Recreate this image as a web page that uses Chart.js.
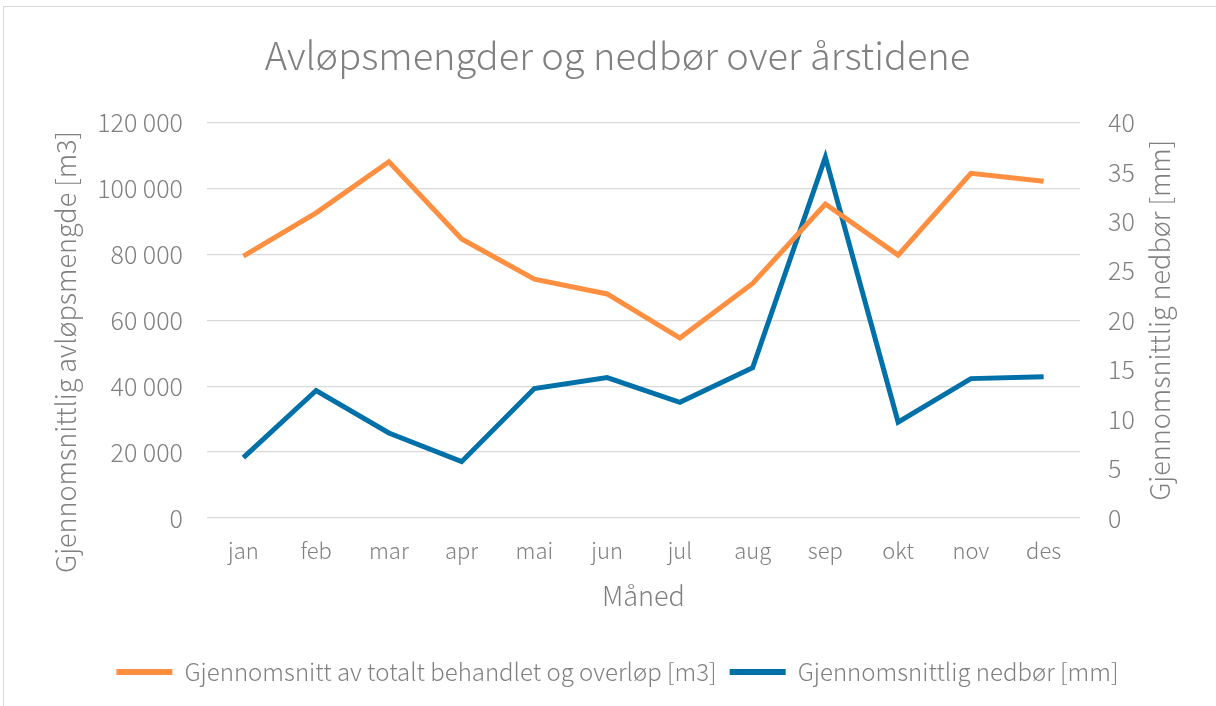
<!DOCTYPE html>
<html>
<head>
<meta charset="utf-8">
<script src="https://cdn.jsdelivr.net/npm/chart.js@4.4.1/dist/chart.umd.min.js"></script>
<style>
    html, body { margin: 0; padding: 0; background: #fff; }
    #wrap { position: relative; width: 1216px; height: 706px; overflow: hidden; }
    #frame { position: absolute; left: 3px; top: 6px; width: 1230px; height: 720px; border: 1.5px solid #d9d9d9; }
    #c { position: absolute; left: 0; top: 0; }
</style>
</head>
<body>
<div id="wrap">
    <div id="frame"></div>
    <canvas id="c" width="1216" height="706"></canvas>
</div>
<script>
// Data
const months = ['jan', 'feb', 'mar', 'apr', 'mai', 'jun', 'jul', 'aug', 'sep', 'okt', 'nov', 'des'];
const avlopsmengde = [79500, 92600, 108100, 84700, 72500, 68000, 54600, 71200, 95300, 79800, 104600, 102200];
const nedbor = [6.1, 12.9, 8.6, 5.7, 13.1, 14.2, 11.7, 15.2, 36.5, 9.7, 14.1, 14.3];
const leftTicks = [0, 20000, 40000, 60000, 80000, 100000, 120000];
const rightTicks = [0, 5, 10, 15, 20, 25, 30, 35, 40];

const FONT = '"Noto Sans CJK JP", "Noto Sans", sans-serif';
const GREY = '#808080';
const ORANGE = '#FF8F40';
const BLUE = '#0070A8';

Chart.defaults.font.family = FONT;
Chart.defaults.font.weight = 300;
Chart.defaults.color = GREY;

// Titres des axes Y dessinés à la main (les deux lisent de bas en haut)
const axisTitles = {
    id: 'axisTitles',
    afterDraw(chart) {
        const ctx = chart.ctx;
        const area = chart.chartArea;
        ctx.save();
        ctx.fillStyle = GREY;
        ctx.font = '300 27px ' + FONT;
        ctx.textAlign = 'center';
        ctx.textBaseline = 'middle';

        ctx.translate(chart.scales.y.left + 21, 352);
        ctx.rotate(-Math.PI / 2);
        ctx.fillText('Gjennomsnittlig avløpsmengde [m3]', 0, 0);
        ctx.restore();

        ctx.save();
        ctx.fillStyle = GREY;
        ctx.font = '300 27px ' + FONT;
        ctx.textAlign = 'center';
        ctx.textBaseline = 'middle';
        ctx.translate(chart.scales.y1.right - 30, (area.top + area.bottom) / 2);
        ctx.rotate(-Math.PI / 2);
        ctx.fillText('Gjennomsnittlig nedbør [mm]', 0, 0);
        ctx.restore();
    }
};

new Chart(document.getElementById('c'), {
    type: 'line',
    data: {
        labels: months,
        datasets: [{
            label: 'Gjennomsnitt av totalt behandlet og overløp [m3]',
            data: avlopsmengde,
            borderColor: ORANGE,
            backgroundColor: ORANGE,
            borderWidth: 5,
            pointRadius: 0,
            tension: 0,
            yAxisID: 'y'
        }, {
            label: 'Gjennomsnittlig nedbør [mm]',
            data: nedbor,
            borderColor: BLUE,
            backgroundColor: BLUE,
            borderWidth: 5,
            pointRadius: 0,
            tension: 0,
            yAxisID: 'y1'
        }]
    },
    options: {
        responsive: false,
        animation: false,
        layout: { padding: { left: 45, right: 26, top: 8, bottom: 12 } },
        plugins: {
            title: {
                display: true,
                text: 'Avløpsmengder og nedbør over årstidene',
                color: GREY,
                font: { size: 38, weight: 300 },
                padding: { top: 25, bottom: 44 }
            },
            legend: {
                position: 'bottom',
                labels: {
                    font: { size: 24, weight: 300 },
                    color: GREY,
                    boxWidth: 56,
                    boxHeight: 6,
                    padding: 13,
                    generateLabels: (chart) => Chart.defaults.plugins.legend.labels.generateLabels(chart).map(l => {
                        l.fillStyle = l.strokeStyle;
                        l.lineWidth = 0;
                        return l;
                    })
                }
            },
            tooltip: { enabled: false }
        },
        scales: {
            x: {
                offset: true,
                grid: { display: false },
                border: { display: false },
                ticks: { font: { size: 22, weight: 300 }, color: GREY, padding: 11 },
                title: {
                    display: true,
                    text: 'Måned',
                    color: GREY,
                    font: { size: 27, weight: 300 },
                    padding: { top: 0, bottom: 35 }
                },
                afterFit: (scale) => { scale.height = 129; }
            },
            y: {
                position: 'left',
                min: 0,
                max: 120000,
                afterBuildTicks: (scale) => { scale.ticks = leftTicks.map(v => ({ value: v })); },
                grid: { color: '#d9d9d9', lineWidth: 1.3, drawTicks: false },
                border: { display: false },
                ticks: {
                    font: { size: 25, weight: 300 },
                    color: GREY,
                    padding: 24,
                    callback: (value) => String(value).replace(/\B(?=(\d{3})+(?!\d))/g, ' ')
                },
                afterFit: (scale) => { scale.width = 162; }
            },
            y1: {
                position: 'right',
                min: 0,
                max: 40,
                afterBuildTicks: (scale) => { scale.ticks = rightTicks.map(v => ({ value: v })); },
                grid: { display: false, drawTicks: false },
                border: { display: false },
                ticks: { font: { size: 25, weight: 300 }, color: GREY, padding: 28 },
                afterFit: (scale) => { scale.width = 110; }
            }
        }
    },
    plugins: [axisTitles]
});
</script>
</body>
</html>
